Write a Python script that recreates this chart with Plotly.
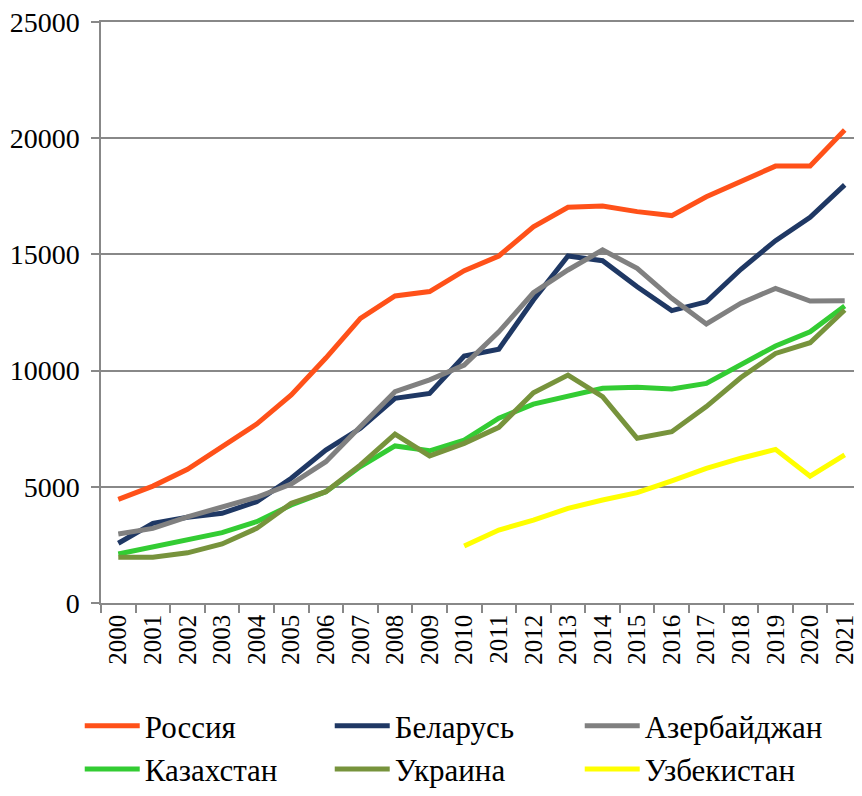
import plotly.graph_objects as go

years = [str(y) for y in range(2000, 2022)]

russia = [4460, 5030, 5750, 6710, 7700, 8950, 10540, 12250, 13210, 13400, 14300,
          14930, 16190, 17030, 17080, 16840, 16670, 17480, 18130, 18800, 18800, 20350]
belarus = [2570, 3430, 3690, 3860, 4360, 5370, 6580, 7520, 8810, 9020, 10630,
           10920, 13040, 14930, 14730, 13610, 12580, 12960, 14360, 15590, 16600, 17990]
azerbaijan = [2970, 3210, 3710, 4140, 4550, 5120, 6080, 7590, 9090, 9600, 10240,
              11670, 13350, 14330, 15190, 14400, 13110, 12010, 12900, 13540, 12990, 13010]
kazakhstan = [2110, 2420, 2680, 3030, 3500, 4220, 4790, 5870, 6760, 6550, 7010,
              7950, 8560, 8880, 9240, 9280, 9210, 9450, 10240, 11060, 11670, 12780]
ukraine = [1970, 1970, 2160, 2540, 3210, 4290, 4790, 5940, 7270, 6330, 6870,
           7560, 9050, 9810, 8880, 7090, 7370, 8450, 9700, 10740, 11200, 12610]
uzbekistan = [None] * 10 + [2450, 3140, 3570, 4070, 4430, 4750, 5260, 5790, 6230,
                            6610, 5460, 6370]

series = [
    ("Россия", russia, "#FF5119"),
    ("Беларусь", belarus, "#1F3864"),
    ("Азербайджан", azerbaijan, "#808080"),
    ("Казахстан", kazakhstan, "#33CC33"),
    ("Украина", ukraine, "#77933C"),
    ("Узбекистан", uzbekistan, "#FFFF00"),
]

fig = go.Figure()
for name, values, color in series:
    fig.add_trace(go.Scatter(
        x=years, y=values, name=name, mode="lines",
        line=dict(color=color, width=5),
        connectgaps=False,
    ))

font = "Liberation Serif, Times New Roman, serif"

# page body adds an 8px offset, so the figure is a bit smaller
fig.update_layout(
    width=854, height=788,
    margin=dict(l=93, r=0, t=14, b=193),
    plot_bgcolor="white", paper_bgcolor="white",
    font=dict(family=font, color="black", size=24),
    legend=dict(
        orientation="h",
        xref="container", yref="container",
        x=0.084, y=0, xanchor="left", yanchor="bottom",
        entrywidth=180, entrywidthmode="pixels",
        font=dict(size=31),
        itemwidth=55,
        tracegroupgap=0,
    ),
)

fig.update_xaxes(
    type="category",
    range=[-0.5, 21.5],
    dtick=1,
    tickson="boundaries",
    ticks="outside", ticklen=8, tickcolor="#888888", tickwidth=1.5,
    tickangle=-90,
    tickfont=dict(size=25),
    showline=True, linecolor="#888888", linewidth=1.5,
    mirror=True,
    showgrid=False,
    automargin=False,
    ticklabeloverflow="allow",
)

fig.update_yaxes(
    range=[0, 25000],
    tickvals=[0, 5000, 10000, 15000, 20000, 25000],
    tickformat="d",
    ticks="outside", ticklen=8, tickcolor="#888888", tickwidth=1.5,
    tickfont=dict(size=28),
    showline=True, linecolor="#888888", linewidth=1.5,
    showgrid=True, gridcolor="#888888", gridwidth=1.5,
    zeroline=False,
    ticklabelstandoff=6,
    automargin=False,
    ticklabeloverflow="allow",
)

fig.write_html("out.html")
